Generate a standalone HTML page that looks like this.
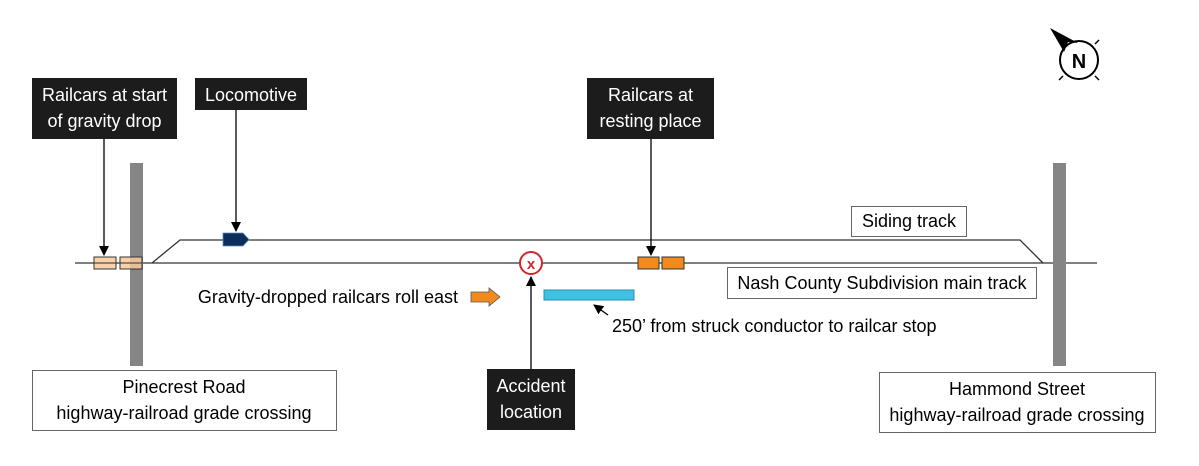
<!DOCTYPE html>
<html><head><meta charset="utf-8"><style>
body{margin:0;background:#fff;}
svg text{font-family:"Liberation Sans Narrow","Liberation Sans",sans-serif;font-size:18px;}
</style></head><body>
<svg width="1199" height="461" viewBox="0 0 1199 461" xmlns="http://www.w3.org/2000/svg">
<defs><marker id="a" markerWidth="10" markerHeight="10" refX="9" refY="5" orient="auto" markerUnits="userSpaceOnUse"><path d="M0,0 L10,5 L0,10 z" fill="#000"/></marker></defs>
<rect width="1199" height="461" fill="#fff"/>
<!-- tracks -->
<line x1="75" y1="263" x2="1097" y2="263" stroke="#333" stroke-width="1.3"/>
<polyline points="152,263 180,240 1020,240 1043,263" fill="none" stroke="#333" stroke-width="1.3"/>
<rect x="130" y="163" width="13" height="203" fill="#858585"/>
<rect x="1053" y="163" width="13" height="203" fill="#858585"/>
<!-- tan railcars -->
<g fill="#f8c99a" fill-opacity="0.85" stroke="#333" stroke-width="1">
<rect x="94" y="257" width="22" height="12"/><rect x="120" y="257" width="22" height="12"/></g>
<line x1="94" y1="263" x2="142" y2="263" stroke="#333" stroke-width="1"/>
<!-- orange railcars -->
<g fill="#f28a1e" stroke="#333" stroke-width="1">
<rect x="638" y="257" width="21" height="12"/><rect x="662" y="257" width="22" height="12"/></g>
<!-- locomotive -->
<path d="M223,233 L243,233 L249,239.5 L243,246 L223,246 z" fill="#0b2e5a" stroke="#5b8fc9" stroke-width="0.8"/>
<!-- accident -->
<circle cx="531" cy="263" r="11" fill="#fff" stroke="#d0262b" stroke-width="2"/>
<text x="531" y="269" text-anchor="middle" fill="#d0262b" style="font-size:15px;font-weight:bold">x</text>
<!-- blue bar -->
<rect x="544" y="290" width="90" height="10" fill="#3ec2e4" stroke="#2a8cb0" stroke-width="1"/>
<!-- orange arrow -->
<path d="M471,292 L489,292 L489,288 L500,297 L489,306 L489,302 L471,302 z" fill="#f28a1e" stroke="#555" stroke-width="0.8"/>
<!-- arrows -->
<line x1="104" y1="139" x2="104" y2="255" stroke="#000" stroke-width="1.3" marker-end="url(#a)"/>
<line x1="236" y1="110" x2="236" y2="231" stroke="#000" stroke-width="1.3" marker-end="url(#a)"/>
<line x1="651" y1="139" x2="651" y2="255" stroke="#000" stroke-width="1.3" marker-end="url(#a)"/>
<line x1="531" y1="369" x2="531" y2="277" stroke="#000" stroke-width="1.3" marker-end="url(#a)"/>
<line x1="608" y1="315" x2="594" y2="305" stroke="#000" stroke-width="1.3" marker-end="url(#a)"/>
<!-- black labels -->
<rect x="32" y="78" width="145" height="61" fill="#1c1c1c"/>
<text x="104.5" y="101" fill="#fff" text-anchor="middle">Railcars at start</text>
<text x="104.5" y="127" fill="#fff" text-anchor="middle">of gravity drop</text>
<rect x="195" y="78" width="112" height="32" fill="#1c1c1c"/>
<text x="251" y="101" fill="#fff" text-anchor="middle">Locomotive</text>
<rect x="587" y="78" width="127" height="61" fill="#1c1c1c"/>
<text x="650.5" y="101" fill="#fff" text-anchor="middle">Railcars at</text>
<text x="650.5" y="127" fill="#fff" text-anchor="middle">resting place</text>
<rect x="487" y="369" width="88" height="61" fill="#1c1c1c"/>
<text x="531" y="392" fill="#fff" text-anchor="middle">Accident</text>
<text x="531" y="418" fill="#fff" text-anchor="middle">location</text>
<!-- white labels -->
<g fill="#fff" stroke="#666" stroke-width="1">
<rect x="851.5" y="206.5" width="115" height="30"/>
<rect x="727.5" y="267.5" width="309" height="31"/>
<rect x="32.5" y="370.5" width="304" height="60"/>
<rect x="879.5" y="372.5" width="276" height="60"/>
</g>
<text x="909" y="227" text-anchor="middle">Siding track</text>
<text x="882" y="289" text-anchor="middle">Nash County Subdivision main track</text>
<text x="184" y="393" text-anchor="middle">Pinecrest Road</text>
<text x="184" y="419" text-anchor="middle">highway-railroad grade crossing</text>
<text x="1017" y="395" text-anchor="middle">Hammond Street</text>
<text x="1017" y="421" text-anchor="middle">highway-railroad grade crossing</text>
<text x="458" y="303" text-anchor="end">Gravity-dropped railcars roll east</text>
<text x="612" y="332">250’ from struck conductor to railcar stop</text>
<!-- compass -->
<circle cx="1079" cy="60" r="19" fill="#fff" stroke="#000" stroke-width="2"/>
<text x="1079" y="68" text-anchor="middle" style="font-family:'Liberation Sans',sans-serif;font-size:20px;font-weight:bold">N</text>
<path d="M1050,28 L1078,43 L1068,42 L1064,52 z" fill="#000"/>
<line x1="1095" y1="44" x2="1099" y2="40" stroke="#000" stroke-width="1.5"/>
<line x1="1063" y1="76" x2="1059" y2="80" stroke="#000" stroke-width="1.5"/>
<line x1="1095" y1="76" x2="1099" y2="80" stroke="#000" stroke-width="1.5"/>
</svg>
</body></html>
